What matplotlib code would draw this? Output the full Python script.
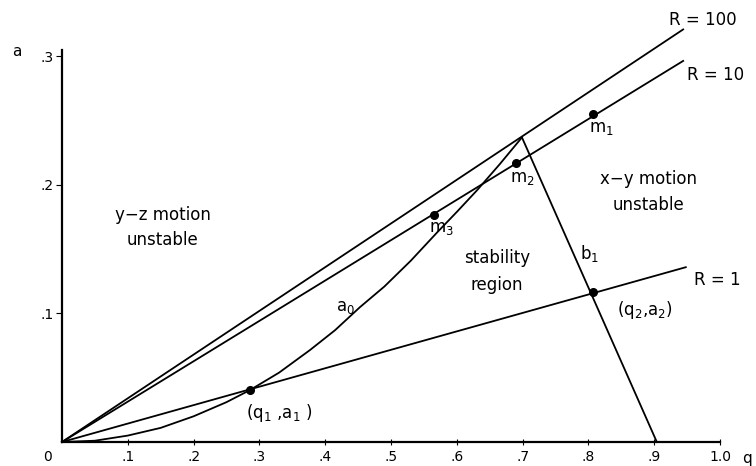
import matplotlib
matplotlib.use("Agg")
import matplotlib.pyplot as plt

# R lines start at the origin and end at these points
r_labels = ["R = 100", "R = 10", "R = 1"]
r_end_q = [0.944, 0.944, 0.948]
r_end_a = [0.321, 0.2965, 0.136]

# a0 boundary
a0_q = [0.0, 0.05, 0.1, 0.15, 0.2, 0.25, 0.286, 0.33, 0.377, 0.415, 0.453,
        0.49, 0.53, 0.57, 0.6, 0.631, 0.665, 0.699]
a0_a = [0.0, 0.001, 0.005, 0.011, 0.020, 0.031, 0.0405, 0.054, 0.0716, 0.087,
        0.105, 0.121, 0.141, 0.163, 0.179, 0.196, 0.216, 0.237]

# b1 boundary (straight)
b1_q = [0.699, 0.904]
b1_a = [0.237, 0.0]

# marked points
m_labels = ["m$_1$", "m$_2$", "m$_3$"]
m_q = [0.807, 0.690, 0.566]
m_a = [0.255, 0.217, 0.177]
cross_q = [0.286, 0.807]
cross_a = [0.0405, 0.117]

x_ticks = [0.1, 0.2, 0.3, 0.4, 0.5, 0.6, 0.7, 0.8, 0.9, 1.0]
x_tick_labels = [".1", ".2", ".3", ".4", ".5", ".6", ".7", ".8", ".9", "1.0"]
y_ticks = [0.1, 0.2, 0.3]
y_tick_labels = [".1", ".2", ".3"]

W, H = 756, 466
fig = plt.figure(figsize=(W / 100, H / 100), dpi=100)
ax = fig.add_axes([62 / W, 24 / H, 658 / W, 392 / H])
ax.set_xlim(0, 1.0)
ax.set_ylim(0, 0.305)
for s in ["top", "right"]:
    ax.spines[s].set_visible(False)
for s in ["left", "bottom"]:
    ax.spines[s].set_linewidth(1.6)

ax.set_xticks(x_ticks)
ax.set_xticklabels(x_tick_labels, fontsize=10)
ax.set_yticks(y_ticks)
ax.set_yticklabels(y_tick_labels, fontsize=10)
ax.tick_params(axis="x", direction="inout", length=5, width=0.8, pad=3)
ax.tick_params(axis="y", direction="out", length=4, width=0.8, pad=2)

lw = 1.3
for qe, ae in zip(r_end_q, r_end_a):
    ax.plot([0, qe], [0, ae], color="black", lw=lw, clip_on=False)
ax.plot(a0_q, a0_a, color="black", lw=lw, clip_on=False)
ax.plot(b1_q, b1_a, color="black", lw=lw, clip_on=False)
ax.plot(m_q, m_a, "o", color="black", ms=5.5, clip_on=False)
ax.plot(cross_q, cross_a, "o", color="black", ms=5.5, clip_on=False)


def px(x, y, s, size=12, ha="center"):
    fig.text(x / W, 1 - y / H, s, fontsize=size, ha=ha, va="center")


px(703, 20, r_labels[0])
px(716, 75, r_labels[1])
px(717, 280, r_labels[2])
px(601, 128, m_labels[0])
px(522, 178, m_labels[1])
px(441, 228, m_labels[2])
px(648, 179, "x\u2212y motion")
px(648, 205, "unstable")
px(163, 215, "y\u2212z motion")
px(163, 240, "unstable")
px(497, 258, "stability")
px(497, 285, "region")
px(590, 253, "b$_1$")
px(345, 307, "a$_0$")
px(279, 413, "(q$_1$ ,a$_1$ )")
px(645, 310, "(q$_2$,a$_2$)")
px(17, 51, "a", size=11)
px(747, 458, "q", size=11)
px(47, 457, "0", size=10)

fig.savefig("out.png", dpi=100, facecolor="white")
